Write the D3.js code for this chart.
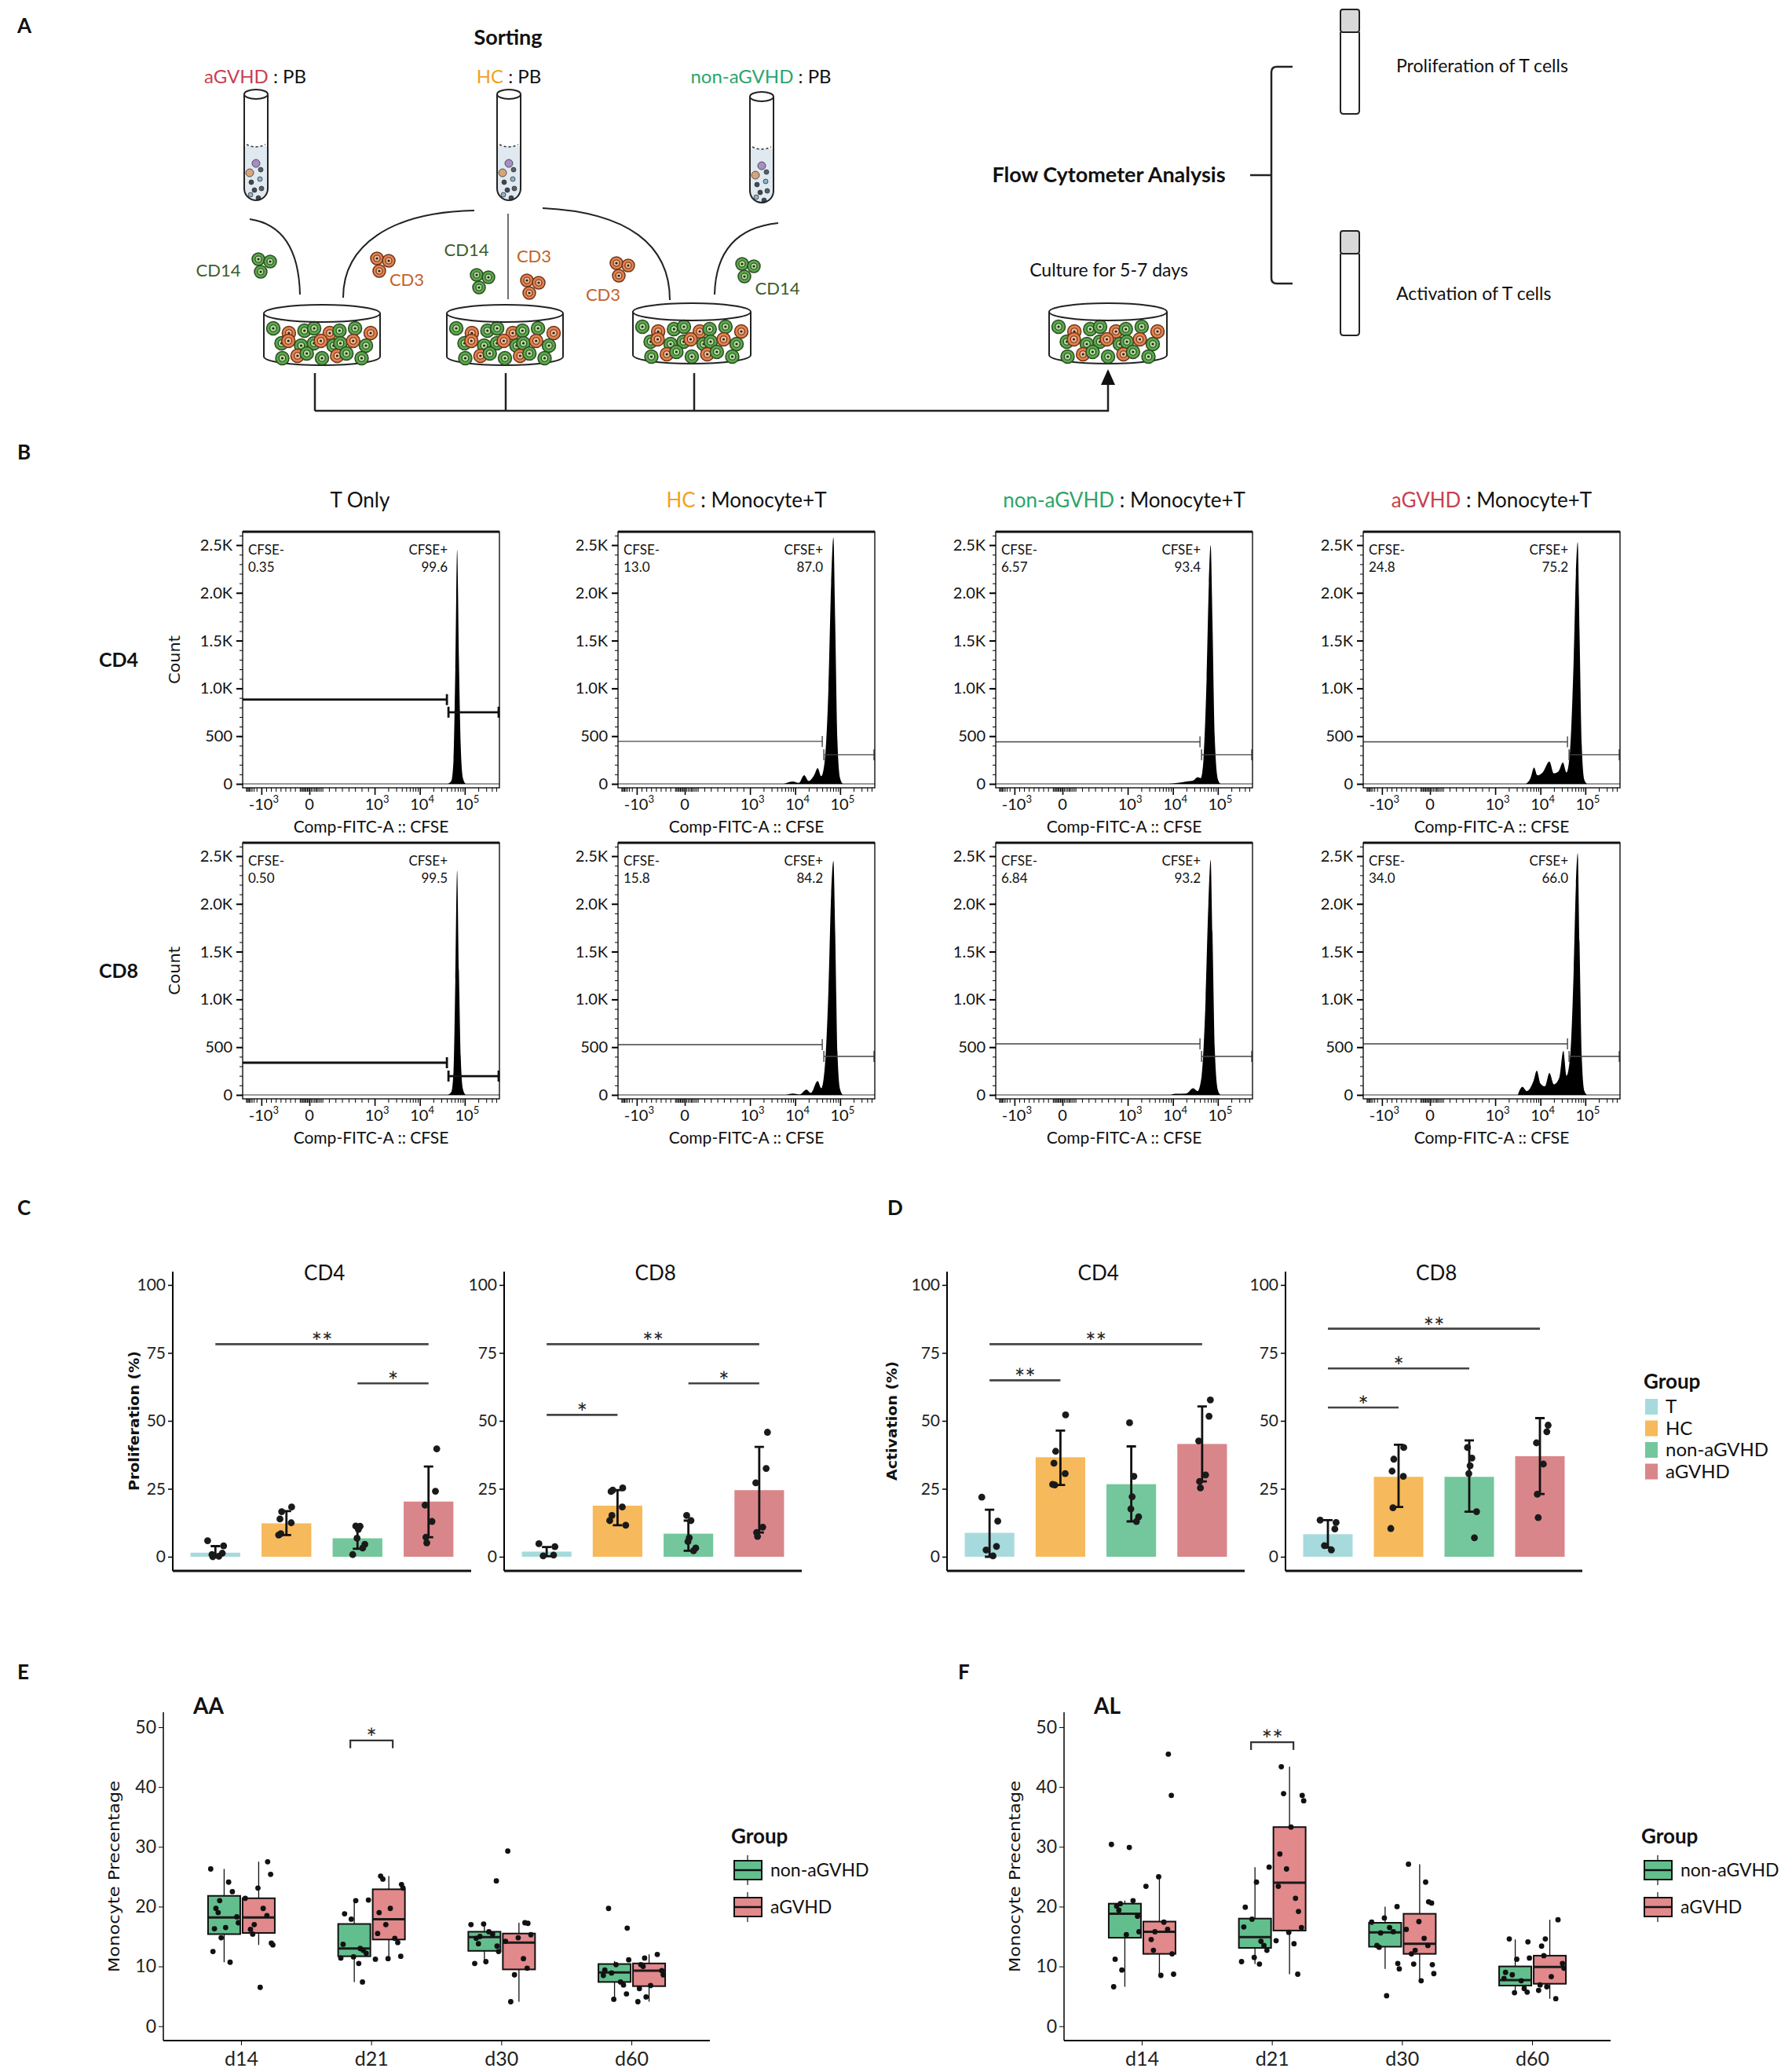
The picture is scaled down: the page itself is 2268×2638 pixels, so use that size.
<!DOCTYPE html>
<html><head><meta charset="utf-8">
<script src="https://cdn.jsdelivr.net/npm/d3@7"></script>
<style>body{margin:0;background:#fff} svg{display:block}</style>
</head><body>
<svg id="fig" width="2268" height="2638"></svg>
<script>
// ================= DATA =================
// Panel B: flow cytometry histograms (x in log10 CFSE units, y = count)
const flowCols = ["T Only", "HC", "non-aGVHD", "aGVHD"];
const flowRows = ["CD4", "CD8"];
const cfseNegText = [["0.35","13.0","6.57","24.8"],["0.50","15.8","6.84","34.0"]];
const cfsePosText = [["99.6","87.0","93.4","75.2"],["99.5","84.2","93.2","66.0"]];
const gateNegCount = [[883,445,440,440],[337,526,535,535]];
const gatePosCount = [[750,305,305,305],[197,403,403,403]];
const gateLog = 4.62;
const histCD4 = [
  [[4.62,0],[4.7,30],[4.75,250],[4.79,1200],[4.83,2450],[4.87,1300],[4.91,400],[4.96,60],[5.02,0]],
  [[3.75,0],[3.95,25],[4.08,10],[4.2,90],[4.3,30],[4.42,90],[4.5,165],[4.58,80],[4.66,250],[4.74,1000],[4.8,2100],[4.85,2580],[4.89,1700],[4.94,450],[5.0,60],[5.06,0]],
  [[3.9,0],[4.1,10],[4.3,25],[4.45,35],[4.55,70],[4.62,60],[4.68,250],[4.75,1100],[4.8,2100],[4.84,2500],[4.88,1700],[4.93,500],[5.0,50],[5.06,0]],
  [[3.68,0],[3.78,60],[3.86,170],[3.93,90],[4.05,120],[4.2,235],[4.3,110],[4.4,130],[4.5,225],[4.58,120],[4.66,350],[4.74,1300],[4.79,2200],[4.83,2530],[4.87,1600],[4.92,400],[4.98,40],[5.04,0]]
];
const histCD8 = [
  [[4.62,0],[4.7,30],[4.75,250],[4.79,1200],[4.83,2350],[4.87,1300],[4.91,400],[4.96,60],[5.02,0]],
  [[3.8,0],[3.95,15],[4.1,5],[4.25,55],[4.35,20],[4.5,145],[4.58,70],[4.66,300],[4.74,1100],[4.8,2100],[4.85,2450],[4.89,1700],[4.94,450],[5.0,60],[5.06,0]],
  [[3.95,0],[4.05,12],[4.3,15],[4.45,70],[4.55,40],[4.64,200],[4.72,900],[4.79,2000],[4.84,2460],[4.88,1700],[4.93,500],[5.0,50],[5.06,0]],
  [[3.5,0],[3.6,85],[3.7,40],[3.85,150],[3.92,255],[4.0,120],[4.1,90],[4.2,230],[4.3,110],[4.42,180],[4.51,460],[4.58,200],[4.66,400],[4.74,1300],[4.79,2200],[4.83,2530],[4.87,1600],[4.92,400],[4.98,40],[5.04,0]]
];
const countTicks = [0,500,1000,1500,2000,2500];
const countTickLabels = ["0","500","1.0K","1.5K","2.0K","2.5K"];
const cfseTicks = [-1000,0,1000,10000,100000];
const cfseTickBase = ["-10","0","10","10","10"];
const cfseTickExp = ["3","","3","4","5"];

// Panels C/D: bar charts
const barGroups = ["T","HC","non-aGVHD","aGVHD"];
const barColors = ["#a7dadc","#f6b95b","#74c79c","#d9868a"];
const profCD4Mean = [1.5,12.3,6.8,20.3];
const profCD4Low  = [0,8.0,2.9,7.2];
const profCD4High = [3.9,16.8,11.3,33.2];
const profCD4Pts  = [[5.9,4.0,1.3,0.8,0.2,0],[18.3,16.6,13.9,12.5,8.5,8.0],[11.3,11.2,10.1,6.8,4.6,3.2,0.8],[39.7,24.1,19.0,13.0,7.2,5.1]];
const profCD8Mean = [1.9,18.8,8.5,24.5];
const profCD8Low  = [0.2,11.6,2.2,8.9];
const profCD8High = [3.6,24.5,13.3,40.4];
const profCD8Pts  = [[4.8,3.7,0.6,0.3],[25.3,24.5,24.0,18.3,15.2,13.3,11.6],[15.2,13.3,7.0,5.6,3.2,2.2],[45.8,32.5,27.2,10.9,8.9,7.5]];
const actCD4Mean = [8.8,36.6,26.7,41.5];
const actCD4Low  = [0,26.4,13.0,27.7];
const actCD4High = [17.3,46.4,40.6,55.3];
const actCD4Pts  = [[21.9,13.1,3.8,2.5,0.3],[52.2,38.8,34.4,30.6,26.4,26.6],[49.3,29.6,22.1,17.6,14.7,13.0],[57.7,51.7,42.6,30.1,27.7,25.3]];
const actCD8Mean = [8.3,29.4,29.4,37.0];
const actCD8Low  = [3.4,18.3,16.6,23.1];
const actCD8High = [13.5,41.2,42.8,51.0];
const actCD8Pts  = [[13.5,12.6,10.2,4.1,2.5],[40.2,35.9,31.5,29.6,18.0,10.4],[40.2,36.3,33.5,30.6,16.6,7.0],[48.4,46.0,41.9,34.1,23.0,14.4]];
const profCD4Sig = [[0,3,78.2,"**"],[2,3,63.8,"*"]];
const profCD8Sig = [[0,3,78.2,"**"],[2,3,63.8,"*"],[0,1,52.2,"*"]];
const actCD4Sig  = [[0,3,78.2,"**"],[0,1,64.9,"**"]];
const actCD8Sig  = [[0,3,83.9,"**"],[0,2,69.3,"*"],[0,1,54.9,"*"]];
const pctTicks = [0,25,50,75,100];

// Panels E/F: box plots  [min, q1, median, q3, max]
const timepoints = ["d14","d21","d30","d60"];
const boxGroups = ["non-aGVHD","aGVHD"];
const boxColors = ["#62bf8d","#e2898b"];
const aaNonStats = [[10.7,15.4,18.2,21.8,26.3],[7.4,11.7,13.0,17.1,21.1],[10.6,12.6,14.9,15.8,17.1],[4.5,7.4,9.0,10.4,10.9]];
const aaAgStats  = [[13.6,15.6,18.2,21.4,27.5],[11.2,14.5,17.9,22.9,25.1],[4.1,9.5,14.0,15.5,17.3],[4.1,6.7,9.3,10.5,12.0]];
const alNonStats = [[6.6,14.8,18.8,20.5,21.0],[10.4,13.1,14.9,18.0,26.6],[9.6,13.3,15.7,17.3,20.0],[5.6,6.8,7.7,10.0,14.5]];
const alAgStats  = [[8.6,12.1,15.8,17.5,25.0],[8.7,16.0,24.0,33.3,43.4],[7.6,12.1,13.8,18.8,27.1],[4.6,7.1,9.9,11.8,17.8]];
const aaNonPts = [[26.3,24.1,22.5,21.0,19.7,19.0,18.3,17.3,16.5,16.3,14.8,12.5,10.7],[21.1,21.0,18.8,17.9,13.7,13.0,12.7,12.2,11.6,11.4,10.5,7.4],[24.3,17.1,17.0,15.8,15.4,15.0,14.7,13.8,13.4,12.5,10.8,10.5],[19.7,16.4,11.1,10.3,9.4,8.9,8.5,7.4,6.9,5.4,4.5]];
const aaAgPts  = [[27.5,25.4,23.1,21.4,19.7,18.5,17.0,16.2,15.4,13.9,13.6,6.5],[25.1,24.6,23.7,23.1,19.7,19.0,17.0,15.5,14.7,14.0,11.7,11.3,11.2],[29.3,17.3,17.2,15.3,14.8,14.2,11.3,9.7,8.6,4.1],[12.0,11.4,10.3,10.0,9.3,8.6,6.8,6.3,4.9,4.1]];
const alNonPts = [[30.4,29.9,21.0,20.5,20.1,19.4,18.4,15.8,15.3,11.2,9.4,6.6],[26.6,24.1,19.9,17.9,16.6,14.2,13.5,12.7,11.5,10.8,10.4],[20.0,18.1,17.4,16.5,15.8,15.6,13.5,13.2,10.5,9.6,5.1],[14.6,14.1,11.4,11.2,9.0,8.6,8.0,7.6,6.3,5.7,5.6]];
const alAgPts  = [[45.5,38.6,25.0,23.4,17.4,16.2,15.8,14.5,12.7,12.1,8.7,8.5],[43.4,38.9,38.6,37.7,33.3,28.8,26.3,23.4,21.4,19.2,16.5,15.7,14.3,13.8,8.7],[27.1,24.1,20.8,20.6,17.5,16.2,14.7,13.5,12.7,12.1,10.4,10.3,8.8,7.6],[17.8,14.6,13.4,11.8,10.5,9.7,8.3,6.9,6.6,6.0,4.6]];
const aaSig = ["d21",47.8,"*"];
const alSig = ["d21",47.5,"**"];
const monoTicks = [0,10,20,30,40,50];

// fixed jitter pattern (deterministic)
const jitter = [-0.9,0.6,-0.2,0.95,-0.55,0.3,0.8,-0.75,0.1,-0.4,0.55,-0.05,0.4,-0.65,0.85,-0.3];

// ================= DRAWING =================
const FONT = "Lato, 'Liberation Sans', Arial, sans-serif";
const WIDE = "'DejaVu Sans', Verdana, sans-serif";
const colAG = "#c8414f", colHC = "#f0a21f", colNon = "#2ba56a";
const svg = d3.select("#fig");
svg.append("rect").attr("width",2268).attr("height",2638).attr("fill","#fff");

function txt(g,x,y,s,size,o={}){
  const t=g.append("text").attr("x",x).attr("y",y).text(s).attr("font-size",size)
    .attr("font-family",o.family||FONT).attr("text-anchor",o.anchor||"start").attr("fill",o.fill||"#111");
  if(o.weight) t.attr("font-weight",o.weight);
  if(o.rotate!==undefined) t.attr("transform",`rotate(${o.rotate},${x},${y})`);
  if(o.len) t.attr("textLength",o.len).attr("lengthAdjust","spacingAndGlyphs");
  return t;
}
function twoTone(g,x,y,a,ca,b,size,o={}){
  const t=g.append("text").attr("x",x).attr("y",y).attr("font-size",size).attr("font-family",FONT)
    .attr("text-anchor",o.anchor||"middle");
  if(o.weight) t.attr("font-weight",o.weight);
  if(a) t.append("tspan").text(a).attr("fill",ca);
  t.append("tspan").text(b).attr("fill","#111");
  return t;
}

// ---------- Panel A ----------
const A = svg.append("g");
txt(A,22,42,"A",26,{weight:"bold"});
txt(A,647,57,"Sorting",27,{weight:"bold",anchor:"middle"});
twoTone(A,325,106,"aGVHD",colAG," : PB",24);
twoTone(A,648,106,"HC",colHC," : PB",24);
twoTone(A,969,106,"non-aGVHD",colNon," : PB",24);

function tube(g,cx,top,bot,w){
  const r=w/2, lq=top+66;
  g.append("path").attr("d",`M${cx-r},${lq} L${cx-r},${bot-r} A${r},${r} 0 0 0 ${cx+r},${bot-r} L${cx+r},${lq} Z`).attr("fill","#dfe9ef");
  g.append("path").attr("d",`M${cx-r+3},${lq-2} Q${cx},${lq+4} ${cx+r-3},${lq-2}`).attr("fill","none").attr("stroke","#333").attr("stroke-width",1.5).attr("stroke-dasharray","3,3");
  const dots=[[0,88,5,"#a88cc6"],[-8,100,5,"#d7a47a"],[6,96,3,"#555e6a"],[-6,112,3,"#3e4856"],[5,108,3,"#8fb3c9"],[-2,122,3,"#3e4856"],[7,120,3,"#555e6a"],[-7,128,3,"#8fb3c9"],[3,132,3,"#3e4856"]];
  dots.forEach(d=>g.append("circle").attr("cx",cx+d[0]).attr("cy",top+d[1]).attr("r",d[2]).attr("fill",d[3]).attr("stroke","#333").attr("stroke-width",0.8));
  g.append("path").attr("d",`M${cx-r},${top} L${cx-r},${bot-r} A${r},${r} 0 0 0 ${cx+r},${bot-r} L${cx+r},${top}`).attr("fill","none").attr("stroke","#222").attr("stroke-width",2);
  g.append("ellipse").attr("cx",cx).attr("cy",top).attr("rx",r).attr("ry",6).attr("fill","#fff").attr("stroke","#222").attr("stroke-width",2);
}
tube(A,326,120,255,30); tube(A,648,120,255,30); tube(A,970,123,258,30);

function cell(g,x,y,kind,r=8.5){
  const green=kind==="g";
  g.append("circle").attr("cx",x).attr("cy",y).attr("r",r).attr("fill",green?"#5aa84c":"#e5814f").attr("stroke",green?"#2b4a22":"#6b3418").attr("stroke-width",1.5);
  g.append("circle").attr("cx",x).attr("cy",y).attr("r",r*0.5).attr("fill",green?"#b5de9a":"#f6bb94").attr("stroke",green?"#2b4a22":"#6b3418").attr("stroke-width",1.2);
  g.append("circle").attr("cx",x).attr("cy",y).attr("r",1.6).attr("fill","#222");
}
function cluster(g,x,y,kind){ [[-7,-7],[8,-4],[-4,9]].forEach(o=>cell(g,x+o[0],y+o[1],kind,8)); }
function dish(g,cx,top,rx){
  const ry=11, yTop=top+ry, yBot=top+66;
  g.append("path").attr("d",`M${cx-rx},${yTop} L${cx-rx},${yBot} A${rx},${ry} 0 0 0 ${cx+rx},${yBot} L${cx+rx},${yTop}`).attr("fill","#fff").attr("stroke","#222").attr("stroke-width",2);
  const rows=[[yTop+22,8,0],[yTop+38,9,6],[yTop+54,7,10]];
  rows.forEach((rw,ri)=>{
    const n=rw[1], span=2*rx-30-rw[2]*2;
    for(let k=0;k<n;k++){
      const x=cx-rx+15+rw[2]+span*(k/(n-1)) + ((k*7+ri*3)%5-2)*1.5;
      cell(g,x,rw[0]+((k*5+ri)%3-1)*3,(k+ri*2+Math.floor(k/3))%2?"o":"g");
    }
  });
  g.append("ellipse").attr("cx",cx).attr("cy",yTop).attr("rx",rx).attr("ry",ry).attr("fill","none").attr("stroke","#222").attr("stroke-width",2);
}
dish(A,410,388,74); dish(A,643,388,74); dish(A,881,386,75); dish(A,1411,386,75);

function pth(g,d,w=2){ g.append("path").attr("d",d).attr("stroke","#222").attr("fill","none").attr("stroke-width",w); }
pth(A,"M318,279 Q380,288 382,375");
pth(A,"M437,379 C437,312 498,270 604,268");
pth(A,"M691,265 C800,270 853,312 853,382");
pth(A,"M991,284 Q912,292 910,375");
pth(A,"M647,272 L647,381",1.3);
cluster(A,336,337,"g"); txt(A,278,352,"CD14",22,{anchor:"middle",fill:"#3d5e2a"});
cluster(A,487,336,"o"); txt(A,518,364,"CD3",22,{anchor:"middle",fill:"#c4622a"});
txt(A,594,326,"CD14",22,{anchor:"middle",fill:"#3d5e2a"}); cluster(A,614,357,"g");
txt(A,680,334,"CD3",22,{anchor:"middle",fill:"#c4622a"}); cluster(A,678,364,"o");
cluster(A,792,342,"o"); txt(A,768,383,"CD3",22,{anchor:"middle",fill:"#c4622a"});
cluster(A,952,343,"g"); txt(A,990,375,"CD14",22,{anchor:"middle",fill:"#3d5e2a"});
pth(A,"M401,475 L401,523 M644,475 L644,523 M884,475 L884,523 M401,523 L1411,523 L1411,488",2.5);
A.append("path").attr("d","M1411,470 L1402,490 L1420,490 Z").attr("fill","#111");
txt(A,1412,352,"Culture for 5-7 days",23,{anchor:"middle"});
txt(A,1412,232,"Flow Cytometer Analysis",27,{anchor:"middle",weight:"bold"});
pth(A,"M1592,223 L1619,223 M1646,85 L1626,85 Q1619,85 1619,92 L1619,354 Q1619,361 1626,361 L1646,361",2.5);
function rtube(g,cx,top,bot){
  const r=12;
  g.append("path").attr("d",`M${cx-r},${top+29} L${cx-r},${bot-4} Q${cx-r},${bot} ${cx-r+4},${bot} L${cx+r-4},${bot} Q${cx+r},${bot} ${cx+r},${bot-4} L${cx+r},${top+29}`).attr("fill","#fff").attr("stroke","#222").attr("stroke-width",2);
  g.append("rect").attr("x",cx-r).attr("y",top).attr("width",2*r).attr("height",29).attr("rx",3).attr("fill","#d8d8d8").attr("stroke","#222").attr("stroke-width",2);
}
rtube(A,1719,12,145); rtube(A,1719,294,427);
txt(A,1778,92,"Proliferation of T cells",23);
txt(A,1778,382,"Activation of T cells",23);

// ---------- Panel B ----------
const B = svg.append("g");
txt(B,22,585,"B",26,{weight:"bold"});
const plotLefts=[309,787,1268,1736], plotTops=[677,1073], PW=327, PH=326;
const titleParts=[["",null,"T Only"],["HC",colHC," : Monocyte+T"],["non-aGVHD",colNon," : Monocyte+T"],["aGVHD",colAG," : Monocyte+T"]];
titleParts.forEach((t,c)=>twoTone(B,plotLefts[c]+PW/2-(c===0?14:0),646,t[0],t[1],t[2],26));
const minorCfse=[];
for(const k of [3,4,5]) for(let m=2;m<=9;m++){ const v=m*Math.pow(10,k); if(Math.log10(v)<=5.77) minorCfse.push(v); }
for(let m=2;m<=9;m++) minorCfse.push(-m*1000);
for(let v=-900;v<=900;v+=100) if(v!==0) minorCfse.push(v);
for(let v=-175;v<=175;v+=25) minorCfse.push(v);
function cfseT(v){ return Math.abs(v)<=1000 ? 3*v/1000 : Math.sign(v)*Math.log10(Math.abs(v)); }
const hists=[histCD4,histCD8];
flowRows.forEach((rowName,r)=>{
  const top=plotTops[r], bot=top+PH;
  txt(B,151,top+PH/2+9,rowName,25,{anchor:"middle",weight:"bold"});
  txt(B,229,top+PH/2,"Count",19,{anchor:"middle",family:WIDE,rotate:-90,len:62});
  flowCols.forEach((col,c)=>{
    const left=plotLefts[c];
    const g=B.append("g");
    const x=d3.scaleLinear().domain([-4.17,-3,0,3,4,5,5.77]).range([0,0.073,0.26,0.514,0.69,0.865,1].map(f=>left+f*PW));
    const y=d3.scaleLinear().domain([0,2500]).range([bot-5,top+17]);
    const clipId=`clip${r}${c}`;
    g.append("clipPath").attr("id",clipId).append("rect").attr("x",left).attr("y",top).attr("width",PW).attr("height",PH);
    const area=d3.area().x(d=>x(d[0])).y0(y(0)).y1(d=>y(d[1])).curve(d3.curveMonotoneX);
    g.append("path").datum(hists[r][c]).attr("d",area).attr("fill","#000").attr("clip-path",`url(#${clipId})`);
    g.append("line").attr("x1",left).attr("x2",left+PW).attr("y1",y(0)).attr("y2",y(0)).attr("stroke","#000").attr("stroke-width",0.8);
    const thick = c===0?2.8:1.4, gcol = c===0?"#111":"#444";
    const gx=x(gateLog);
    const yn=y(gateNegCount[r][c]), yp=y(gatePosCount[r][c]);
    g.append("path").attr("d",`M${left},${yn} L${gx-1},${yn} M${gx-1},${yn-7} L${gx-1},${yn+7}`).attr("stroke",gcol).attr("stroke-width",thick).attr("fill","none");
    g.append("path").attr("d",`M${gx+1},${yp} L${left+PW},${yp} M${gx+1},${yp-7} L${gx+1},${yp+7} M${left+PW-1},${yp-7} L${left+PW-1},${yp+7}`).attr("stroke",gcol).attr("stroke-width",thick).attr("fill","none");
    g.append("rect").attr("x",left).attr("y",top).attr("width",PW).attr("height",PH).attr("fill","none").attr("stroke","#111").attr("stroke-width",1.4);
    g.append("line").attr("x1",left).attr("x2",left+PW).attr("y1",top).attr("y2",top).attr("stroke","#111").attr("stroke-width",3);
    const yAx=g.append("g").attr("transform",`translate(${left},0)`).call(d3.axisLeft(y).tickValues(countTicks).tickSize(8).tickFormat((d,i)=>countTickLabels[i]));
    yAx.select(".domain").remove();
    yAx.selectAll("text").attr("font-size",20).attr("font-family",FONT).attr("fill","#111").attr("dx",-2);
    yAx.selectAll("line").attr("stroke-width",2);
    const yMin=g.append("g").attr("transform",`translate(${left},0)`).call(d3.axisLeft(y).tickValues(d3.range(0,2700,100)).tickSize(4).tickFormat(""));
    yMin.select(".domain").remove(); yMin.selectAll("line").attr("stroke-width",1);
    const xs=d3.scaleLinear().domain(x.domain()).range(x.range());
    const xAx=g.append("g").attr("transform",`translate(0,${bot})`).call(d3.axisBottom(xs).tickValues(cfseTicks.map(cfseT)).tickSize(9).tickFormat(""));
    xAx.select(".domain").remove(); xAx.selectAll("line").attr("stroke-width",1.6);
    const xMin=g.append("g").attr("transform",`translate(0,${bot})`).call(d3.axisBottom(xs).tickValues(minorCfse.map(cfseT)).tickSize(5).tickFormat(""));
    xMin.select(".domain").remove(); xMin.selectAll("line").attr("stroke-width",1);
    cfseTicks.forEach((v,i)=>{
      const t=g.append("text").attr("x",xs(cfseT(v))+ (cfseTickExp[i]?3:0)).attr("y",bot+28).attr("font-size",20).attr("font-family",FONT).attr("text-anchor","middle").attr("fill","#111");
      t.append("tspan").text(cfseTickBase[i]);
      if(cfseTickExp[i]) t.append("tspan").text(cfseTickExp[i]).attr("font-size",13).attr("dy",-9);
    });
    txt(g,left+PW/2,bot+57,"Comp-FITC-A :: CFSE",21,{anchor:"middle"});
    txt(g,left+7,top+29,"CFSE-",17);
    txt(g,left+7,top+51,cfseNegText[r][c],17);
    txt(g,left+261,top+29,"CFSE+",17,{anchor:"end"});
    txt(g,left+261,top+51,cfsePosText[r][c],17,{anchor:"end"});
  });
});

// ---------- Panels C / D ----------
const CD = svg.append("g");
txt(CD,22,1547,"C",26,{weight:"bold"});
txt(CD,1130,1547,"D",26,{weight:"bold"});
function barPanel(left,right,title,means,lows,highs,pts,sigs){
  const g=CD.append("g");
  const x=d3.scaleBand().domain(barGroups).range([left,right]).paddingInner(0.3).paddingOuter(0.25);
  const y=d3.scaleLinear().domain([-5.2,104.9]).range([2000,1619]);
  const cx=i=>x(barGroups[i])+x.bandwidth()/2;
  g.selectAll("rect.bar").data(means).join("rect").attr("class","bar")
    .attr("x",(d,i)=>x(barGroups[i])).attr("width",x.bandwidth())
    .attr("y",d=>y(d)).attr("height",d=>y(0)-y(d)).attr("fill",(d,i)=>barColors[i]);
  means.forEach((m,i)=>{
    g.append("path").attr("d",`M${cx(i)},${y(lows[i])} L${cx(i)},${y(highs[i])} M${cx(i)-6},${y(highs[i])} L${cx(i)+6},${y(highs[i])} M${cx(i)-6},${y(lows[i])} L${cx(i)+6},${y(lows[i])}`)
      .attr("stroke","#111").attr("stroke-width",2.8).attr("fill","none");
    g.selectAll(null).data(pts[i]).join("circle").attr("cx",(d,j)=>cx(i)+jitter[(j*3+i)%jitter.length]*11).attr("cy",d=>y(d)).attr("r",4.4).attr("fill","#1a1a1a");
  });
  sigs.forEach(s=>{
    const yy=y(s[2]);
    g.append("line").attr("x1",cx(s[0])).attr("x2",cx(s[1])).attr("y1",yy).attr("y2",yy).attr("stroke","#444").attr("stroke-width",2.6);
    txt(g,(cx(s[0])+cx(s[1]))/2,yy+9,s[3],32,{anchor:"middle",fill:"#222"});
  });
  const yAx=g.append("g").attr("transform",`translate(${left},0)`).call(d3.axisLeft(y).tickValues(pctTicks).tickSize(6));
  yAx.select(".domain").attr("d",`M0,1619V2000`).attr("stroke-width",2);
  yAx.selectAll("text").attr("font-size",21).attr("font-family",FONT).attr("fill","#222");
  yAx.selectAll(".tick line").attr("stroke-width",1.5);
  g.append("line").attr("x1",left).attr("x2",right).attr("y1",2000).attr("y2",2000).attr("stroke","#111").attr("stroke-width",3);
  txt(g,(left+right)/2+(x.bandwidth()*0.05),1630,title,26,{anchor:"middle"});
}
barPanel(220,600,"CD4",profCD4Mean,profCD4Low,profCD4High,profCD4Pts,profCD4Sig);
barPanel(642,1021,"CD8",profCD8Mean,profCD8Low,profCD8High,profCD8Pts,profCD8Sig);
barPanel(1206,1585,"CD4",actCD4Mean,actCD4Low,actCD4High,actCD4Pts,actCD4Sig);
barPanel(1637,2015,"CD8",actCD8Mean,actCD8Low,actCD8High,actCD8Pts,actCD8Sig);
txt(CD,177,1809,"Proliferation (%)",18,{anchor:"middle",family:WIDE,weight:"bold",rotate:-90,len:178});
txt(CD,1142,1809,"Activation (%)",18,{anchor:"middle",family:WIDE,weight:"bold",rotate:-90,len:152});
txt(CD,2093,1768,"Group",26,{weight:"bold"});
barGroups.forEach((gname,i)=>{
  const cy=1791+i*27.5;
  CD.append("rect").attr("x",2095).attr("y",cy-10).attr("width",16).attr("height",20).attr("fill",barColors[i]);
  txt(CD,2121,cy+8,gname,24);
});

// ---------- Panels E / F ----------
const EF = svg.append("g");
txt(EF,22,2138,"E",26,{weight:"bold"});
txt(EF,1220,2138,"F",26,{weight:"bold"});
function boxPanel(left,right,title,statsArr,ptsArr,sig,legX){
  const g=EF.append("g");
  const x=d3.scaleBand().domain(timepoints).range([left,right]).paddingInner(0.5).paddingOuter(0.35);
  const y=d3.scaleLinear().domain([-2.4,52.5]).range([2598,2180]);
  const cx=t=>x(t)+x.bandwidth()/2;
  const dodge=[-22,22], bw=41;
  timepoints.forEach((t,i)=>{
    statsArr.forEach((stats,gi)=>{
      const s=stats[i], c=cx(t)+dodge[gi];
      g.append("path").attr("d",`M${c},${y(s[0])} L${c},${y(s[1])} M${c},${y(s[3])} L${c},${y(s[4])}`).attr("stroke","#111").attr("stroke-width",1.3);
      g.append("rect").attr("x",c-bw/2).attr("y",y(s[3])).attr("width",bw).attr("height",y(s[1])-y(s[3])).attr("fill",boxColors[gi]).attr("stroke","#111").attr("stroke-width",2);
      g.append("line").attr("x1",c-bw/2).attr("x2",c+bw/2).attr("y1",y(s[2])).attr("y2",y(s[2])).attr("stroke","#1a1a1a").attr("stroke-width",3);
    });
  });
  timepoints.forEach((t,i)=>{
    ptsArr.forEach((pts,gi)=>{
      const c=cx(t)+dodge[gi];
      g.selectAll(null).data(pts[i]).join("circle").attr("cx",(d,j)=>c+jitter[(j*5+i*3+gi)%jitter.length]*19).attr("cy",d=>y(d)).attr("r",3.4).attr("fill","#111");
    });
  });
  const sx=cx(sig[0]), sy=y(sig[1]);
  g.append("path").attr("d",`M${sx-27},${sy+10} L${sx-27},${sy} L${sx+27},${sy} L${sx+27},${sy+10}`).attr("stroke","#333").attr("stroke-width",2.2).attr("fill","none");
  txt(g,sx,sy+8,sig[2],32,{anchor:"middle",fill:"#222"});
  const yAx=g.append("g").attr("transform",`translate(${left},0)`).call(d3.axisLeft(y).tickValues(monoTicks).tickSize(6));
  yAx.select(".domain").attr("d","M0,2180V2598").attr("stroke-width",1.5);
  yAx.selectAll("text").attr("font-size",23).attr("font-family",FONT).attr("fill","#222");
  const xAx=g.append("g").attr("transform","translate(0,2598)").call(d3.axisBottom(x).tickSize(6));
  xAx.select(".domain").attr("d",`M${left},0H${right}`).attr("stroke-width",2);
  xAx.selectAll("text").attr("font-size",25).attr("font-family",FONT).attr("fill","#222").attr("dy","0.9em");
  txt(g,left+38,2182,title,28,{weight:"bold"});
  txt(g,left-56,2389,"Monocyte Precentage",20,{anchor:"middle",family:WIDE,rotate:-90,len:244});
  txt(g,legX-4,2347,"Group",26,{weight:"bold"});
  boxGroups.forEach((gn,gi)=>{
    const ky=2381+gi*47, kx=legX+17;
    g.append("line").attr("x1",kx).attr("x2",kx).attr("y1",ky-19).attr("y2",ky+19).attr("stroke","#222").attr("stroke-width",1.3);
    g.append("rect").attr("x",kx-17).attr("y",ky-12).attr("width",35).attr("height",24).attr("fill",boxColors[gi]).attr("stroke","#111").attr("stroke-width",2);
    g.append("line").attr("x1",kx-17).attr("x2",kx+18).attr("y1",ky).attr("y2",ky).attr("stroke","#111").attr("stroke-width",2.5);
    txt(g,legX+46,ky+8,gn,23);
  });
}
boxPanel(208,904,"AA",[aaNonStats,aaAgStats],[aaNonPts,aaAgPts],aaSig,935);
boxPanel(1355,2051,"AL",[alNonStats,alAgStats],[alNonPts,alAgPts],alSig,2094);
</script>
</body></html>
